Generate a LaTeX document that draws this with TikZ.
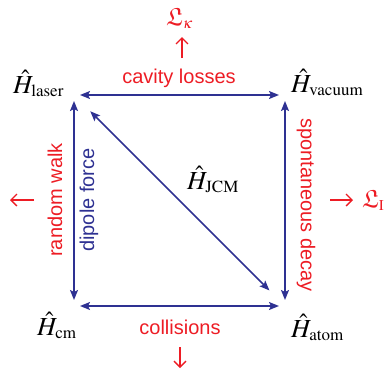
\documentclass[tikz,border=0pt]{standalone}
\usepackage{amssymb}
\usepackage{mathptmx}
\usepackage{fontspec}
\setmainfont{Liberation Serif}
\setsansfont{Liberation Sans}
\usetikzlibrary{arrows.meta}
\DeclareMathSizes{26}{26}{17}{13}
\DeclareMathSizes{25}{25}{15}{12}
\definecolor{myred}{RGB}{237,28,36}
\definecolor{myblue}{RGB}{46,49,146}
\tikzset{
  link/.style={draw=myblue, line width=1.5pt,
    {Stealth[length=10pt,width=8pt,inset=2pt]}-{Stealth[length=10pt,width=8pt,inset=2pt]},
    shorten <=6pt, shorten >=6pt},
  ham/.style={font=\fontsize{26}{30}\selectfont, inner sep=0pt, anchor=base west},
  redlab/.style={text=myred, font=\sffamily\fontsize{20}{24}\selectfont, inner sep=0pt},
  bluelab/.style={text=myblue, font=\sffamily\fontsize{20}{24}\selectfont, inner sep=0pt},
  loss/.style={draw=myred, line width=1.3pt, -{Straight Barb[length=6pt,width=12pt]}},
  bath/.style={text=myred, font=\fontsize{25}{28}\selectfont, inner sep=0pt}
}
\begin{document}
\begin{tikzpicture}[x=1pt,y=-1pt]
\useasboundingbox (0,0) rectangle (389,375);
% corners
\coordinate (TL) at (74,95);
\coordinate (TR) at (285,95);
\coordinate (BL) at (74,306);
\coordinate (BR) at (285,306);
% Hamiltonians
\node[ham] (hlaser) at (13,93) {$\hat{H}_{\mathrm{laser}}$};
\node[ham] (hvac) at (291,92) {$\hat{H}_{\mathrm{vacuum}}$};
\node[ham] (hcm) at (37,335) {$\hat{H}_{\mathrm{cm}}$};
\node[ham] (hatom) at (291,337) {$\hat{H}_{\mathrm{atom}}$};
\node[ham] (hjcm) at (187,189) {$\hat{H}_{\mathrm{JCM}}$};
% couplings
\draw[link] (TL) -- (TR);
\draw[link] (BL) -- (BR);
\draw[link] (TL) -- (BL);
\draw[link] (TR) -- (BR);
\draw[link, shorten <=23pt, shorten >=22pt] (TL) -- (BR);
% labels
\node[redlab] (lcav) at (179,78) {cavity losses};
\node[redlab] (lcol) at (180,327) {collisions};
\node[redlab, rotate=90] (lrw) at (55,200) {random walk};
\node[bluelab, rotate=90] (ldip) at (89,200) {dipole force};
\node[redlab, rotate=-90] (lsp) at (306,205) {spontaneous decay};
% baths
\node[bath, anchor=base west] (lk) at (166,25) {$\mathfrak{L}_{\kappa}$};
\node[bath, anchor=base west] (lI) at (362,207) {$\mathfrak{L}_{\mathrm{I}}$};
\coordinate (ua) at (182,58);
\coordinate (ub) at (182,37);
\coordinate (da) at (180,347);
\coordinate (db) at (180,368);
\coordinate (la) at (34,200);
\coordinate (lb) at (10,200);
\coordinate (ra) at (330,200);
\coordinate (rb) at (353,200);
\draw[loss] (ua) -- (ub);
\draw[loss] (da) -- (db);
\draw[loss] (la) -- (lb);
\draw[loss] (ra) -- (rb);
\end{tikzpicture}
\end{document}
